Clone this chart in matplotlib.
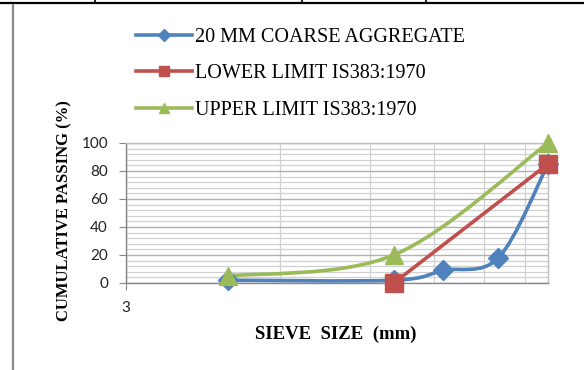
import numpy as np
import matplotlib
matplotlib.use("Agg")
import matplotlib.pyplot as plt
from matplotlib.lines import Line2D
from matplotlib.path import Path
from matplotlib.patches import PathPatch

# sieve sizes (mm) and cumulative passing (%)
agg_sizes = [4.75, 10, 12.5, 16, 20]
agg_pass = [2, 2, 9, 18, 85]
lower_sizes = [10, 20]
lower_pass = [0, 85]
upper_sizes = [4.75, 10, 20]
upper_pass = [5, 20, 100]

series = [
    ("20 MM COARSE AGGREGATE", agg_sizes, agg_pass, "#4F81BD", "D", 10, True),
    ("LOWER LIMIT IS383:1970", lower_sizes, lower_pass, "#C0504D", "s", 13, False),
    ("UPPER LIMIT IS383:1970", upper_sizes, upper_pass, "#9BBB59", "^", 13, True),
]

W, H = 584, 370
fig = plt.figure(figsize=(W / 100, H / 100), dpi=100)
ax = fig.add_axes([126 / W, 1 - 283 / H, (548 - 126) / W, (283 - 143) / H])

ax.set_xscale("log")
ax.set_xlim(3, 20)
ax.set_ylim(0, 100)


def smooth_path(xs, ys):
    # Excel-style smoothed line: cubic Bezier through points, built in axes space
    fwd = ax.transScale + ax.transLimits
    pts = fwd.transform(np.column_stack([xs, ys]))
    pts = pts * [422, 140]
    n = len(pts)
    verts = [pts[0]]
    codes = [Path.MOVETO]
    for i in range(n - 1):
        p0 = pts[i - 1] if i > 0 else pts[i]
        p1, p2 = pts[i], pts[i + 1]
        p3 = pts[i + 2] if i + 2 < n else pts[i + 1]
        c1 = p1 + (p2 - p0) / 6
        c2 = p2 - (p3 - p1) / 6
        verts += [c1, c2, p2]
        codes += [Path.CURVE4] * 3
    verts = np.array(verts) / [422, 140]
    data = fwd.inverted().transform(verts)
    return Path(data, codes)


for label, xs, ys, color, marker, ms, smooth in series:
    if smooth:
        ax.add_patch(PathPatch(smooth_path(xs, ys), fill=False, edgecolor=color,
                               lw=2.6, capstyle="round", zorder=3))
    else:
        ax.plot(xs, ys, color=color, lw=2.6, zorder=3)
    ax.plot(xs, ys, linestyle="none", marker=marker, ms=ms, color=color,
            mec=color, zorder=4, clip_on=False)

# grid
ax.set_xticks([3])
ax.set_xticklabels(["3"])
ax.set_xticks([6, 9, 12, 15, 18], minor=True)
ax.xaxis.set_minor_formatter(plt.NullFormatter())
ax.set_yticks(np.arange(0, 101, 20))
ax.set_yticks(np.arange(0, 101, 4), minor=True)
ax.grid(True, which="major", color="#B0B0B0", lw=1.0)
ax.grid(True, which="minor", color="#D0D0D0", lw=0.9)
ax.set_axisbelow(True)
for s in ax.spines.values():
    s.set_color("#BDBDBD")
    s.set_linewidth(1.0)
ax.spines["left"].set_color("#868686")
ax.spines["bottom"].set_color("#868686")
ax.tick_params(which="major", direction="out", length=5, color="#868686",
               labelsize=11, labelcolor="#222222")
ax.tick_params(axis="x", which="major", pad=8)
ax.tick_params(axis="y", which="major", pad=8)
ax.tick_params(which="minor", length=0)
for t in ax.get_xticklabels() + ax.get_yticklabels():
    t.set_fontfamily("Lato")

fig.text(64 / W, 1 - 211 / H, "CUMULATIVE PASSING (%)", rotation=90,
         ha="center", va="center", family="Liberation Serif",
         fontweight="bold", fontsize=12)
fig.text(336 / W, 1 - 334 / H, "SIEVE  SIZE  (mm)", ha="center", va="center",
         family="Liberation Serif", fontweight="bold", fontsize=13.5)

handles = [Line2D([], [], color=c, lw=2.6, marker=m, ms=ms * 0.6, mec=c)
           for _, _, _, c, m, ms, _ in series]
leg = fig.legend(handles, [s[0] for s in series], loc="upper left",
                 bbox_to_anchor=(128 / W, 1 - 20 / H), frameon=False,
                 prop={"family": "Liberation Serif", "size": 14.5},
                 handlelength=2.8, handletextpad=0.15, labelspacing=0.85,
                 borderaxespad=0)

# page border bits
fig.add_artist(Line2D([0, 1], [1 - 2.5 / H] * 2, color="black", lw=1.6,
                      transform=fig.transFigure))
for xd in [95, 302, 426]:
    fig.add_artist(Line2D([xd / W] * 2, [1 - 2.5 / H, 1], color="black", lw=1.2,
                          transform=fig.transFigure))
fig.add_artist(Line2D([13 / W] * 2, [0, 1 - 5 / H], color="#8A8A8A", lw=1.6,
                      transform=fig.transFigure))

fig.savefig("out.png", dpi=100)
